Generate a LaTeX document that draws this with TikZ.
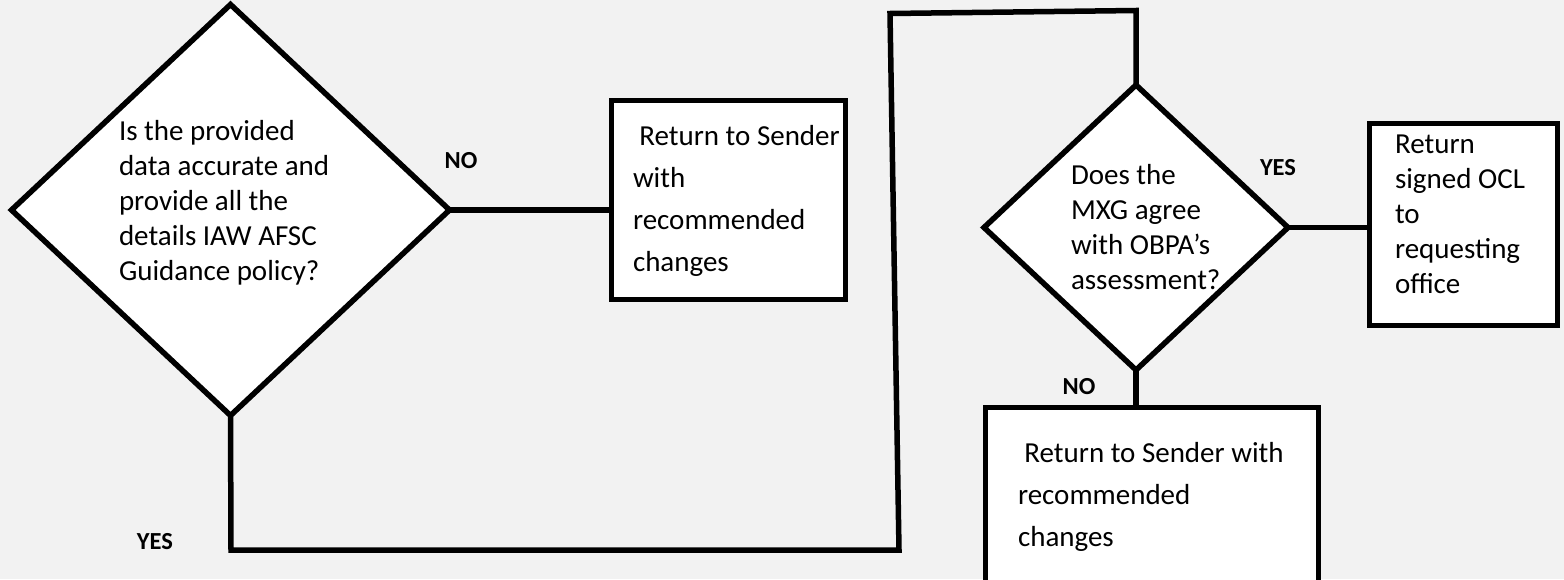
\documentclass[tikz,border=0pt]{standalone}
\usepackage{fontspec}
\setmainfont{Carlito}
\usetikzlibrary{shapes.geometric,calc}
\definecolor{pagebg}{HTML}{F2F2F2}

\tikzset{
  flow/.style={line width=5.5pt, draw=black},
  decision/.style={diamond, flow, fill=white, inner sep=0pt, outer sep=0pt},
  stepbox/.style={rectangle, flow, fill=white, inner sep=0pt, outer sep=0pt},
  wire/.style={line width=5.5pt, draw=black},
  bodytext/.style={anchor=base west, inner sep=0pt, outer sep=0pt},
  answer/.style={inner sep=0pt, font=\bfseries\fontsize{24.5}{28}\selectfont},
}
\newcommand{\tightlines}{\fontsize{29}{35}\selectfont}
\newcommand{\looselines}{\fontsize{29}{42}\selectfont}

\begin{document}
\begin{tikzpicture}[x=1pt, y=-1pt]
  \clip (0,0) rectangle (1564,579);
  \useasboundingbox (0,0) rectangle (1564,579);
  \fill[pagebg] (0,0) rectangle (1564,579);

  % decisions
  \node[decision, minimum width=438pt, minimum height=411pt] (q1) at (230.5,210) {};
  \node[decision, minimum width=304pt, minimum height=285pt] (q2) at (1136,227.5) {};

  % actions
  \node[stepbox, minimum width=234pt, minimum height=199pt] (r1) at (728.5,200) {};
  \node[stepbox, minimum width=188pt, minimum height=202pt] (ok) at (1463.5,224.5) {};
  \node[stepbox, minimum width=333pt, minimum height=250pt] (r2) at (1152,532.5) {};

  % texts
  \node[bodytext] (q1t) at (119,140) {\parbox[t]{260pt}{\tightlines\raggedright
    Is the provided\\ data accurate and\\ provide all the\\ details IAW AFSC\\ Guidance policy?}};
  \node[bodytext] (r1t) at (633,145) {\parbox[t]{220pt}{\looselines\raggedright
    \hspace*{0.22em}Return to Sender\\ with\\ recommended\\ changes}};
  \node[bodytext] (q2t) at (1071,184) {\parbox[t]{200pt}{\tightlines\raggedright
    Does the\\ MXG agree\\ with OBPA’s\\ assessment?}};
  \node[bodytext] (okt) at (1395,153) {\parbox[t]{160pt}{\tightlines\raggedright
    Return\\ signed OCL\\ to\\ requesting\\ office}};
  \node[bodytext] (r2t) at (1018,462) {\parbox[t]{300pt}{\looselines\raggedright
    \hspace*{0.22em}Return to Sender with\\ recommended\\ changes}};

  % answer labels
  \node[answer] (no1) at (461,161) {NO};
  \node[answer] (yes1) at (155,542) {YES};
  \node[answer] (yes2) at (1278,168) {YES};
  \node[answer] (no2) at (1079,387) {NO};

  % connectors
  \coordinate (c1) at (231,550);
  \coordinate (c2) at (899,550);
  \coordinate (c3) at (890,13.5);
  \coordinate (c4) at (1136,10.5);

  \draw[wire] (q1.east) -- (q1.east -| r1.west);
  \draw[wire] (q1.south) -- (c1) -- (c2) -- (c3) -- (c4) -- (q2.north);
  \draw[wire] (q2.east) -- (q2.east -| ok.west);
  \draw[wire] (q2.south) -- (q2.south |- r2.north);
\end{tikzpicture}
\end{document}
